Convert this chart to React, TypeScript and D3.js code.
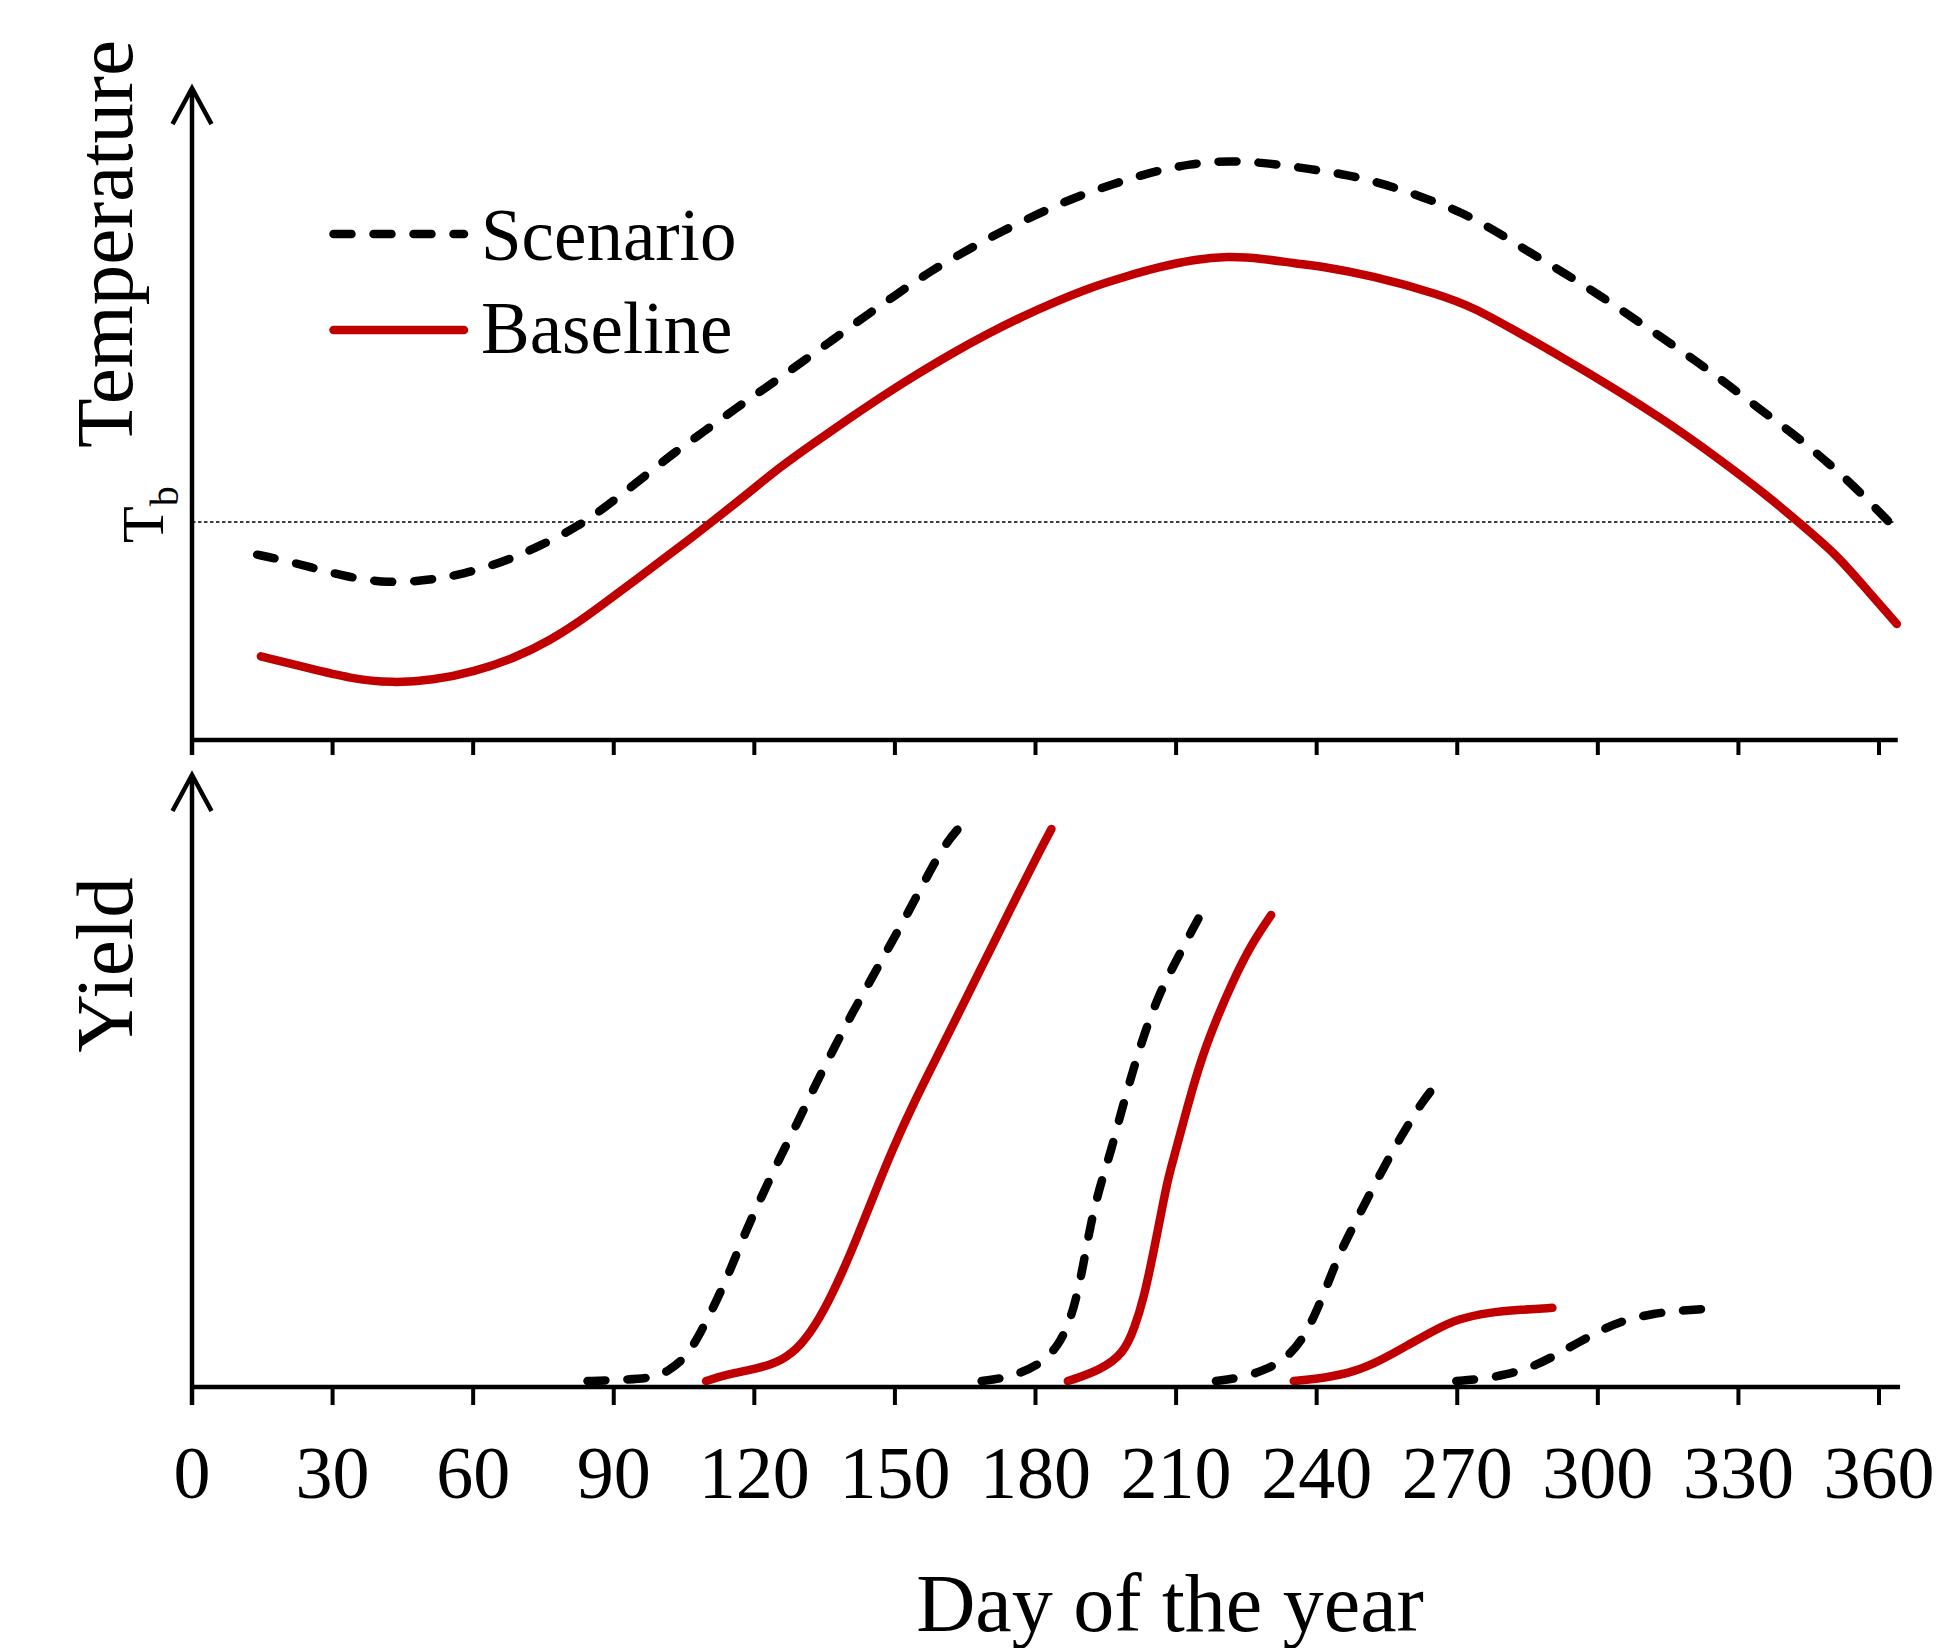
import React from "react";
import * as d3 from "d3";

type Pt = [number, number];

// x axis: day of the year
const dayTicks: number[] = [0, 30, 60, 90, 120, 150, 180, 210, 240, 270, 300, 330, 360];
const baseTemp = 10; // Tb (arbitrary units)

// Top panel: temperature (arbitrary units)
const scenarioTemp: Pt[] = [
  [13.9, 8.5], [19.1, 8.27], [24.9, 7.95], [33, 7.48], [41.8, 7.19], [50.3, 7.32], [58, 7.61],
  [66.8, 8.19], [74.2, 8.9], [82.3, 9.77], [88.9, 10.79], [95.9, 11.98], [102.8, 13.17],
  [109.5, 14.19], [116.1, 15.22], [122.7, 16.2], [129.9, 17.3], [136.9, 18.38], [143.9, 19.48],
  [150.8, 20.51], [157.8, 21.54], [165.5, 22.48], [172.9, 23.35], [180.6, 24.14], [188.3, 24.89],
  [196.4, 25.49], [204.5, 26.04], [212.9, 26.43], [221.4, 26.59], [229.8, 26.46], [238.3, 26.2],
  [246.6, 25.93], [254.7, 25.49], [262.8, 24.89], [270.9, 24.22], [278.2, 23.35], [285.5, 22.36],
  [292.9, 21.41], [300.2, 20.43], [307.2, 19.4], [314.2, 18.38], [321.2, 17.35], [327.8, 16.29],
  [334.8, 15.14], [341.8, 14.03], [348.4, 12.85], [354.6, 11.67], [362.1, 10.01],
];

const baselineTemp: Pt[] = [
  [14.7, 3.84], [24.9, 3.29], [33.8, 2.82], [42.6, 2.61], [51.4, 2.74], [60.2, 3.13], [69, 3.77],
  [76.4, 4.56], [83.7, 5.58], [91.1, 6.77], [98.4, 7.95], [105.8, 9.14], [110.9, 10.0],
  [118, 11.2], [125.5, 12.53], [132.8, 13.64], [140.2, 14.74], [147.5, 15.8], [154.9, 16.8],
  [162.2, 17.74], [169.6, 18.61], [176.9, 19.4], [184.3, 20.11], [191.6, 20.75], [199, 21.25],
  [206.3, 21.69], [213.7, 22.04], [221, 22.2], [228.4, 22.09], [235.7, 21.85], [240.7, 21.74],
  [251.8, 21.3], [266.4, 20.43], [273.8, 19.8], [281.1, 18.93], [292.1, 17.59], [303.2, 16.17],
  [314.2, 14.67], [325.2, 13.0], [336.3, 11.19], [343.6, 9.85], [350.9, 8.5], [356, 7.24],
  [363.8, 5.32],
];

// Bottom panel: yield (arbitrary units), one curve per sowing
const scenarioYield1: Pt[] = [
  [84.4, 0.29], [90, 0.34], [98.3, 0.42], [101.4, 0.75], [105.4, 1.42], [108.5, 2.65], [111.7, 4.1],
  [114.9, 5.74], [118, 7.55], [121.6, 9.36], [125.1, 11.08], [129.1, 12.9], [133, 14.8], [137, 16.61],
  [140.9, 18.33], [144.9, 19.97], [148.8, 21.6], [152.8, 23.24], [156.7, 24.96], [160.6, 26.59],
  [164, 27.5],
];
const baselineYield1: Pt[] = [
  [109.7, 0.29], [114.1, 0.62], [121.2, 0.93], [125.9, 1.29], [129.9, 2.01], [133.8, 3.28],
  [137.8, 5.1], [141.7, 7.19], [145.6, 9.45], [149.6, 11.72], [154.3, 14.07], [159.9, 16.61],
  [165.4, 19.15], [170.9, 21.69], [176.4, 24.23], [181.2, 26.41], [183.4, 27.35],
];
const scenarioYield2: Pt[] = [
  [168.5, 0.29], [173.7, 0.44], [180.7, 1.01], [185.5, 2.13], [188.4, 3.96], [190.2, 5.98],
  [191.7, 7.91], [193.6, 9.74], [196, 11.47], [198.3, 13.5], [200.7, 15.43], [203.1, 17.25],
  [206.4, 19.28], [209.8, 20.8], [213.9, 22.6], [215.3, 23.19],
];
const baselineYield2: Pt[] = [
  [186.9, 0.29], [193.6, 0.8], [198.8, 1.62], [201.2, 2.94], [203.1, 4.36], [205, 6.39],
  [206.9, 8.63], [208.3, 10.25], [209.8, 11.47], [212.6, 13.91], [215.6, 16.25], [218.9, 18.19],
  [222, 19.83], [226, 21.69], [230.3, 23.14],
];
const scenarioYield3: Pt[] = [
  [218.5, 0.29], [223.6, 0.44], [229.2, 0.83], [233.9, 1.47], [237.4, 2.47], [240.2, 3.83],
  [242.6, 5.19], [244.9, 6.55], [247.7, 7.82], [250.5, 9.09], [253.6, 10.45], [256.8, 11.81],
  [259.9, 12.99], [262.3, 13.89], [264.7, 14.61],
];
const baselineYield3: Pt[] = [
  [235.1, 0.29], [241.8, 0.44], [248.1, 0.75], [253.6, 1.29], [259.9, 2.11], [265.5, 2.83],
  [270.2, 3.34], [276.5, 3.65], [283.6, 3.79], [290.3, 3.88],
];
const scenarioYield4: Pt[] = [
  [269.8, 0.29], [274.9, 0.38], [280.5, 0.6], [286, 0.98], [290.7, 1.52], [295.5, 2.14],
  [301, 2.83], [305.7, 3.28], [312, 3.61], [317.6, 3.74], [323.1, 3.83],
];

const scenarioYields = [scenarioYield1, scenarioYield2, scenarioYield3, scenarioYield4];
const baselineYields = [baselineYield1, baselineYield2, baselineYield3];

const seriesNames = ["Scenario", "Baseline"];

const RED = "#c00000";
const FONT = "'Liberation Serif', 'Times New Roman', serif";
const DASH = "18 22";
const LW = 8.5;

export default function App() {
  const W = 1936;
  const H = 1648;
  const x = d3.scaleLinear().domain([0, 360]).range([192, 1879]);
  const yT = d3.scaleLinear().domain([0, 30]).range([740, 86]);
  const yY = d3.scaleLinear().domain([0, 30]).range([1387, 775]);

  const lineT = d3
    .line<Pt>()
    .x((d) => x(d[0]))
    .y((d) => yT(d[1]))
    .curve(d3.curveBasis);
  const lineY = d3
    .line<Pt>()
    .x((d) => x(d[0]))
    .y((d) => yY(d[1]))
    .curve(d3.curveBasis);

  const x0 = x(0);
  const axisW = 4.5;
  const tickW = 4;

  const topAxisY = yT(0);
  const topTip = yT(29.9);
  const botAxisY = yY(0);
  const botTip = yY(30);

  const arrow = (tip: number) =>
    `M${x0 - 19.5},${tip + 36} L${x0},${tip} L${x0 + 19.5},${tip + 36}`;

  return (
    <svg
      width={W}
      height={H}
      viewBox={`0 0 ${W} ${H}`}
      style={{ position: "absolute", left: 0, top: 0, background: "#fff" }}
      fontFamily={FONT}
    >
      <rect x={0} y={0} width={W} height={H} fill="#fff" />

      {/* ---------- Top panel ---------- */}
      <line
        x1={x0}
        x2={x(363.5)}
        y1={yT(baseTemp)}
        y2={yT(baseTemp)}
        stroke="#000"
        strokeWidth={1.3}
        strokeDasharray="3.5 2.5"
      />
      <line x1={x0} x2={x0} y1={topTip} y2={topAxisY + 15} stroke="#000" strokeWidth={axisW} />
      <path d={arrow(topTip)} fill="none" stroke="#000" strokeWidth={axisW} strokeLinejoin="miter" />
      <line x1={x0 - 2} x2={x(364)} y1={topAxisY} y2={topAxisY} stroke="#000" strokeWidth={axisW} />
      {dayTicks.map((t) => (
        <line key={"tt" + t} x1={x(t)} x2={x(t)} y1={topAxisY} y2={topAxisY + 15} stroke="#000" strokeWidth={tickW} />
      ))}

      <path d={lineT(baselineTemp) || ""} fill="none" stroke={RED} strokeWidth={LW} strokeLinecap="round" strokeLinejoin="round" />
      <path d={lineT(scenarioTemp) || ""} fill="none" stroke="#000" strokeWidth={LW} strokeLinecap="round" strokeDasharray={DASH} />

      <text transform={`translate(132,244) rotate(-90)`} textAnchor="middle" fontSize={81} fill="#000">
        Temperature
      </text>
      <text transform={`translate(163,${yT(baseTemp) + 21}) rotate(-90)`} fontSize={60} fill="#000">
        T<tspan dy={15} fontSize={40}>b</tspan>
      </text>

      {/* legend */}
      <line x1={333.5} x2={464} y1={234} y2={234} stroke="#000" strokeWidth={LW} strokeLinecap="round" strokeDasharray={DASH} />
      <line x1={333.5} x2={464} y1={330} y2={330} stroke={RED} strokeWidth={LW} strokeLinecap="round" />
      <text x={481} y={259.5} fontSize={73} fill="#000">{seriesNames[0]}</text>
      <text x={481} y={352.5} fontSize={73} fill="#000">{seriesNames[1]}</text>

      {/* ---------- Bottom panel ---------- */}
      <line x1={x0} x2={x0} y1={botTip} y2={botAxisY + 18} stroke="#000" strokeWidth={axisW} />
      <path d={arrow(botTip)} fill="none" stroke="#000" strokeWidth={axisW} strokeLinejoin="miter" />

      {baselineYields.map((s, i) => (
        <path key={"by" + i} d={lineY(s) || ""} fill="none" stroke={RED} strokeWidth={LW} strokeLinecap="round" strokeLinejoin="round" />
      ))}
      {scenarioYields.map((s, i) => (
        <path key={"sy" + i} d={lineY(s) || ""} fill="none" stroke="#000" strokeWidth={LW} strokeLinecap="round" strokeDasharray={DASH} />
      ))}

      <line x1={x0 - 2} x2={x(364.5)} y1={botAxisY} y2={botAxisY} stroke="#000" strokeWidth={axisW} />
      {dayTicks.map((t) => (
        <g key={"bt" + t}>
          <line x1={x(t)} x2={x(t)} y1={botAxisY} y2={botAxisY + 18} stroke="#000" strokeWidth={tickW} />
          <text x={x(t)} y={1498} textAnchor="middle" fontSize={74} fill="#000">
            {t}
          </text>
        </g>
      ))}

      <text transform={`translate(132,965) rotate(-90)`} textAnchor="middle" fontSize={81} fill="#000">
        Yield
      </text>
      <text x={1170} y={1631} textAnchor="middle" fontSize={82} fill="#000">
        Day of the year
      </text>
    </svg>
  );
}
